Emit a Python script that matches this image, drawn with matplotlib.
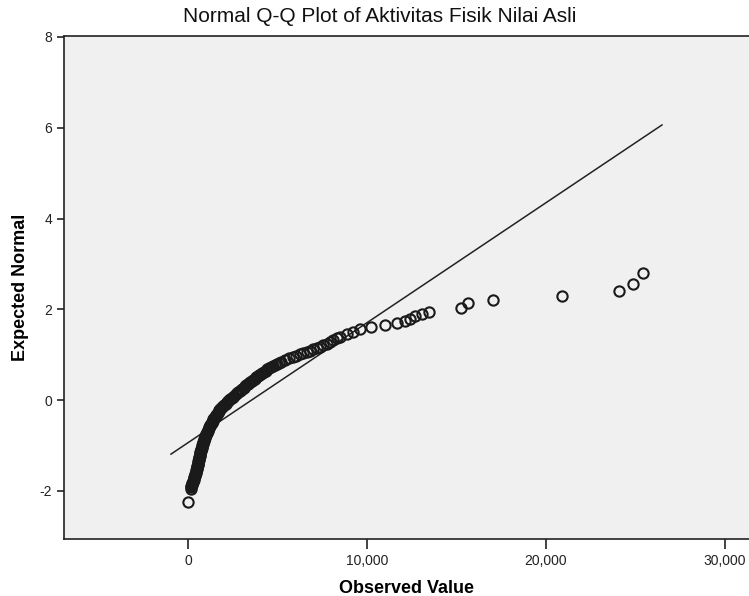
import matplotlib
matplotlib.use("Agg")
import matplotlib.pyplot as plt
from matplotlib.ticker import FuncFormatter

observed = [0, 150, 170, 190, 210, 230, 250, 270, 290, 310, 335, 360, 380, 400, 420,
            440, 455, 470, 485, 500, 515, 530, 543, 555, 568, 580, 593, 605, 620,
            635, 650, 665, 680, 695, 710, 725, 742, 760, 778, 795, 812, 830, 850,
            870, 892, 915, 938, 960, 985, 1010, 1040, 1070, 1100, 1130, 1160, 1190,
            1220, 1250, 1285, 1320, 1355, 1390, 1425, 1460, 1500, 1540, 1580, 1620,
            1665, 1710, 1760, 1810, 1865, 1920, 1980, 2040, 2105, 2170, 2235, 2300,
            2370, 2440, 2515, 2590, 2665, 2740, 2815, 2890, 2965, 3040, 3115, 3190,
            3265, 3340, 3415, 3490, 3565, 3640, 3720, 3800, 3885, 3970, 4060, 4150,
            4245, 4340, 4440, 4540, 4650, 4760, 4870, 4980, 5090, 5200, 5420, 5650,
            5850, 6050, 6260, 6450, 6640, 6820, 7000, 7190, 7380, 7560, 7750, 7940,
            8120, 8310, 8490, 8870, 9240, 9610, 10220, 11010, 11660, 12120, 12400,
            12680, 13050, 13480, 15230, 15640, 17020, 20890, 24080, 24840, 25440]
expected = [-2.24, -1.95, -1.925, -1.90, -1.875, -1.85, -1.825, -1.80, -1.775, -1.75,
            -1.725, -1.70, -1.675, -1.65, -1.625, -1.60, -1.575, -1.55, -1.525, -1.50,
            -1.475, -1.45, -1.425, -1.40, -1.375, -1.35, -1.325, -1.30, -1.275, -1.25,
            -1.225, -1.20, -1.175, -1.15, -1.125, -1.10, -1.075, -1.05, -1.025, -1.00,
            -0.975, -0.95, -0.925, -0.90, -0.875, -0.85, -0.825, -0.80, -0.775, -0.75,
            -0.725, -0.70, -0.675, -0.65, -0.625, -0.60, -0.575, -0.55, -0.525, -0.50,
            -0.475, -0.45, -0.425, -0.40, -0.375, -0.35, -0.325, -0.30, -0.275, -0.25,
            -0.225, -0.20, -0.175, -0.15, -0.125, -0.10, -0.075, -0.05, -0.025, 0.00,
            0.025, 0.05, 0.075, 0.10, 0.125, 0.15, 0.175, 0.20, 0.225, 0.25, 0.275,
            0.30, 0.325, 0.35, 0.375, 0.40, 0.425, 0.45, 0.475, 0.50, 0.525, 0.55,
            0.575, 0.60, 0.625, 0.65, 0.675, 0.70, 0.725, 0.75, 0.775, 0.80, 0.825,
            0.85, 0.88, 0.92, 0.95, 0.98, 1.01, 1.04, 1.06, 1.09, 1.12, 1.15, 1.18,
            1.21, 1.24, 1.28, 1.32, 1.36, 1.40, 1.45, 1.50, 1.56, 1.61, 1.66, 1.70,
            1.75, 1.79, 1.85, 1.90, 1.95, 2.03, 2.13, 2.21, 2.30, 2.40, 2.55, 2.79]

# reference line y = (x - mean) / sd
line_mean = 3552
line_sd = 3783
line_x = [-950, 26480]

xticks = [0, 10000, 20000, 30000]
yticks = [-2, 0, 2, 4, 6, 8]

plt.rcParams["font.family"] = ["Liberation Sans", "DejaVu Sans"]
plt.rcParams["axes.unicode_minus"] = False

fig = plt.figure(figsize=(7.49, 5.96), dpi=100)
ax = fig.add_axes([0.0854, 0.0956, 0.9146, 0.844])
ax.set_facecolor("#f0f0f0")

ax.plot(line_x, [(v - line_mean) / line_sd for v in line_x], color="#222222", lw=1.1)
ax.plot(observed, expected, linestyle="none", marker="o", markersize=7.4,
        markerfacecolor="none", markeredgecolor="#1a1a1a", markeredgewidth=1.5)

ax.set_xlim(-6927, 31340)
ax.set_ylim(-3.06, 8.02)
ax.set_xticks(xticks)
ax.set_yticks(yticks)
ax.xaxis.set_major_formatter(FuncFormatter(lambda v, p: "{:,.0f}".format(v)))
ax.tick_params(axis="x", length=7, width=1.2, labelsize=10, colors="#222222")
ax.tick_params(axis="y", length=5, width=1.2, labelsize=10, colors="#222222")

for s in ["left", "bottom", "top"]:
    ax.spines[s].set_linewidth(1.2)
    ax.spines[s].set_color("#222222")
ax.spines["right"].set_visible(False)

fig.text(380 / 749, 1 - 17 / 596, "Normal Q-Q Plot of Aktivitas Fisik Nilai Asli",
         fontsize=15, ha="center", va="center", color="#111111")
ax.set_xlabel("Observed Value", fontsize=13, fontweight="bold", labelpad=9)
ax.set_ylabel("Expected Normal", fontsize=13, fontweight="bold", labelpad=8)

plt.savefig("out.png", dpi=100)
